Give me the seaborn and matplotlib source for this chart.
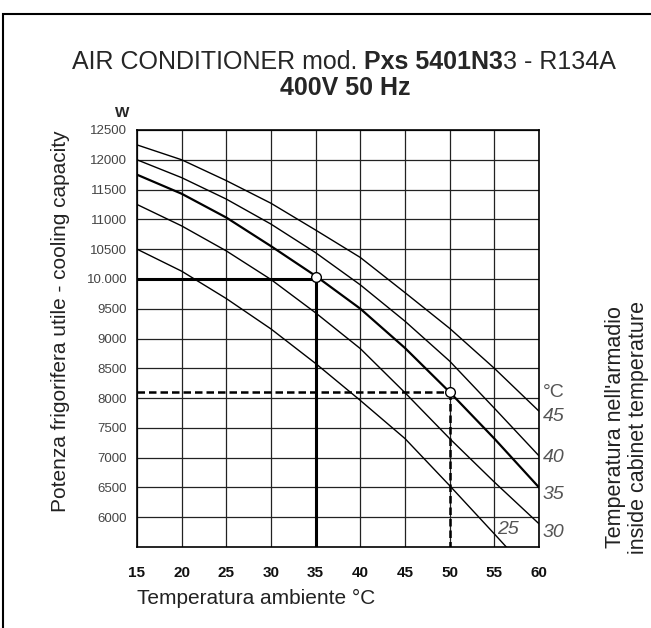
# Cooling capacity chart - Pxs 5401N33 air conditioner

import pandas as pd
import seaborn as sns
import matplotlib.pyplot as plt
from matplotlib.patches import Rectangle

sns.set_theme(style='white')
plt.rcParams['font.family'] = ['Liberation Sans', 'DejaVu Sans']

# ambient temperature (°C) and cooling capacity (W) for each cabinet temperature
t_amb = [15, 20, 25, 30, 35, 40, 45, 50, 55, 60]
cap_45 = [12250, 12000, 11650, 11270, 10820, 10360, 9770, 9170, 8500, 7780]
cap_40 = [12000, 11700, 11340, 10920, 10440, 9900, 9290, 8620, 7830, 7030]
cap_35 = [11750, 11430, 11030, 10550, 10050, 9500, 8840, 8100, 7320, 6500]
cap_30 = [11250, 10890, 10470, 9990, 9430, 8830, 8090, 7320, 6590, 5890]
cap_25 = [10500, 10130, 9670, 9160, 8580, 7960, 7320, 6530, 5720, 4900]

# working points
pt_t = [35, 50]
pt_w = [10040, 8100]

y_ticks = list(range(6000, 12501, 500))
y_labels = ['10.000' if v == 10000 else str(v) for v in y_ticks]
x_ticks = list(range(15, 61, 5))

curves = pd.DataFrame({
    't': t_amb * 5,
    'w': cap_45 + cap_40 + cap_35 + cap_30 + cap_25,
    'cab': [45] * 10 + [40] * 10 + [35] * 10 + [30] * 10 + [25] * 10,
})

fig = plt.figure(figsize=(6.51, 6.28), dpi=100)
ax = fig.add_axes([137 / 651, 1 - 547 / 628, 402 / 651, 417 / 628])

for cab, g in curves.groupby('cab'):
    sns.lineplot(data=g, x='t', y='w', color='black',
                 lw=1.6 if cab == 35 else 1.0, ax=ax, legend=False)

# reference lines
ax.plot([15, 35], [10000, 10000], color='black', lw=2.2, solid_capstyle='butt')
ax.plot([35, 35], [10000, 5500], color='black', lw=2.2, solid_capstyle='butt')
ax.plot([15, 50], [8100, 8100], color='black', lw=1.8, ls=(0, (3, 1.6)))
ax.plot([50, 50], [8100, 5500], color='black', lw=1.8, ls=(0, (3, 1.6)))
ax.plot(pt_t, pt_w, 'o', ms=7, mfc='white', mec='black', mew=1.0, ls='none')

ax.set_xlim(15, 60)
ax.set_ylim(5500, 12500)
ax.set_xticks(x_ticks)
ax.set_xticklabels([str(v) for v in x_ticks], fontsize=11, fontweight='bold',
                   color='#111111')
ax.set_yticks(y_ticks)
ax.set_yticklabels(y_labels, fontsize=9.5, color='#444444',
                   family=['Liberation Sans Narrow', 'Liberation Sans'])
ax.tick_params(axis='y', length=0, pad=7)
ax.tick_params(axis='x', length=0, pad=14)
ax.grid(True, color='#222222', lw=0.9)
for s in ax.spines.values():
    s.set_color('black')
    s.set_linewidth(1.2)

ax.set_xlabel('Temperatura ambiente °C', fontsize=15, color='#222222',
              loc='left', labelpad=6)
ax.set_ylabel('Potenza frigorifera utile - cooling capacity', fontsize=15,
              color='#222222')
ax.yaxis.set_label_coords(-0.167, 0.542)

# cabinet temperature labels on the right
lab_kw = dict(transform=ax.get_yaxis_transform(), fontsize=14, color='#555555',
              ha='left', va='center')
ax.text(1.01, 8100, '°C', **lab_kw)
for lab, yv in zip(['45', '40', '35', '30'], [7690, 7000, 6380, 5740]):
    ax.text(1.01, yv, lab, style='italic', **lab_kw)
ax.text(55.3, 5790, '25', fontsize=14, color='#555555', style='italic',
        ha='left', va='center')

fig.text(627 / 651, 1 - 427 / 628, "Temperatura nell'armadio\ninside cabinet temperature",
         rotation=90, fontsize=15.5, color='#222222', ha='center', va='center',
         linespacing=1.15)

# title with mixed weights, pieces placed one after another on one baseline
base = 1 - 69 / 628
t1 = fig.text(72 / 651, base, 'AIR CONDITIONER mod. ', fontsize=18, va='baseline')
t2 = fig.text(0, base, 'Pxs 5401N3', fontsize=18, fontweight='bold', va='baseline')
t3 = fig.text(0, base, '3 - R134A', fontsize=18, va='baseline')
fig.canvas.draw()
r = fig.canvas.get_renderer()
t2.set_x(t1.get_window_extent(r).x1 / fig.bbox.width)
fig.canvas.draw()
t3.set_x(t2.get_window_extent(r).x1 / fig.bbox.width)
fig.text(345 / 651, 1 - 88 / 628, '400V 50 Hz', fontsize=18, fontweight='bold',
         ha='center', va='center')
fig.text(122 / 651, 1 - 113 / 628, 'W', fontsize=11, fontweight='bold',
         ha='center', va='center')

# outer frame (right and bottom sides fall outside the picture)
fig.patches.append(Rectangle((3 / 651, -0.05), 1.05, 1.05 - 14 / 628,
                             transform=fig.transFigure, fill=False,
                             ec='black', lw=1.5))

fig.savefig('out.png', dpi=100)
